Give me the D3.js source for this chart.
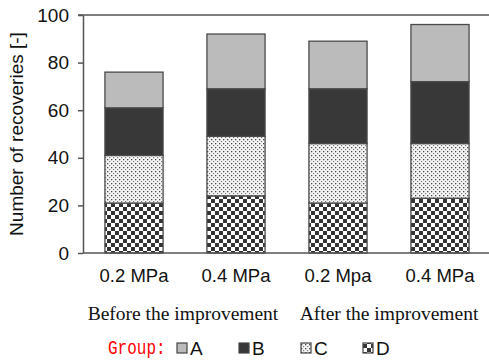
<!DOCTYPE html>
<html>
<head>
<meta charset="utf-8">
<script src="https://d3js.org/d3.v7.min.js"></script>
<style>
  body { margin: 0; background: #fff; }
  svg { display: block; }
</style>
</head>
<body>
<div id="chart"></div>
<script>
// categories and values (stacked bottom to top: D, C, B, A)
var pressures = ["0.2 MPa", "0.4 MPa", "0.2 Mpa", "0.4 MPa"];
var phases = ["Before the improvement", "After the improvement"];
var groups = ["A", "B", "C", "D"];
var groupD = [21, 24, 21, 23];
var groupC = [20, 25, 25, 23];
var groupB = [20, 20, 23, 26];
var groupA = [15, 23, 20, 24];
var yTicks = [0, 20, 40, 60, 80, 100];

var W = 489, H = 362;
var margin = {top: 15, right: -2, bottom: 109, left: 83};
var width = W - margin.left - margin.right,
    height = H - margin.top - margin.bottom;

var rows = pressures.map(function(p, i) {
  return {key: i, A: groupA[i], B: groupB[i], C: groupC[i], D: groupD[i]};
});

var svg = d3.select("#chart")
  .append("svg")
    .attr("width", W)
    .attr("height", H);

var defs = svg.append("defs");

// fine dot pattern for C
var dots = defs.append("pattern")
    .attr("id", "dots")
    .attr("patternUnits", "userSpaceOnUse")
    .attr("width", 4).attr("height", 4);
dots.append("rect").attr("width", 4).attr("height", 4).attr("fill", "#f6f6f6");
dots.append("rect").attr("x", 0).attr("y", 0).attr("width", 1.3).attr("height", 1.3).attr("fill", "#444");
dots.append("rect").attr("x", 2).attr("y", 2).attr("width", 1.2).attr("height", 1.2).attr("fill", "#777");

// checkerboard for D
var checks = defs.append("pattern")
    .attr("id", "checks")
    .attr("patternUnits", "userSpaceOnUse")
    .attr("width", 8).attr("height", 8);
checks.append("rect").attr("width", 8).attr("height", 8).attr("fill", "#fff");
checks.append("rect").attr("x", 0).attr("y", 0).attr("width", 4).attr("height", 4).attr("fill", "#333");
checks.append("rect").attr("x", 4).attr("y", 4).attr("width", 4).attr("height", 4).attr("fill", "#333");

var fills = {A: "#bbbbbb", B: "#383838", C: "url(#dots)", D: "url(#checks)"};

var g = svg.append("g")
    .attr("transform", "translate(" + margin.left + "," + margin.top + ")");

var x = d3.scaleBand()
  .domain(d3.range(pressures.length))
  .range([0, width])
  .paddingInner(0.43)
  .paddingOuter(0.215);

var y = d3.scaleLinear()
  .domain([0, 100])
  .range([height, 0]);

// top line at 100
g.append("line")
  .attr("x1", -5).attr("x2", width)
  .attr("y1", y(100)).attr("y2", y(100))
  .attr("stroke", "#555").attr("stroke-width", 1.5);

var stack = d3.stack().keys(["D", "C", "B", "A"]);
var series = stack(rows);

g.append("g")
  .selectAll("g")
  .data(series)
  .enter()
  .append("g")
    .attr("fill", function(d) { return fills[d.key]; })
  .selectAll("rect")
  .data(function(d) { return d; })
  .enter()
  .append("rect")
    .attr("x", function(d) { return x(d.data.key); })
    .attr("y", function(d) { return y(d[1]); })
    .attr("width", x.bandwidth())
    .attr("height", function(d) { return y(d[0]) - y(d[1]); })
    .attr("stroke", "#4a4a4a")
    .attr("stroke-width", 1.3);

// y axis
var yAxis = g.append("g")
  .call(d3.axisLeft(y).tickValues(yTicks).tickSize(5).tickPadding(9).tickSizeOuter(0));
yAxis.select(".domain").attr("stroke", "#555").attr("stroke-width", 1.5);
yAxis.selectAll(".tick line").attr("stroke", "#555").attr("stroke-width", 1.5);
yAxis.selectAll(".tick text")
  .attr("font-family", "Liberation Sans, Arial, sans-serif")
  .attr("font-size", 19)
  .attr("fill", "#111");

// x axis
var xAxis = g.append("g")
  .attr("transform", "translate(0," + height + ")")
  .call(d3.axisBottom(x).tickSize(0).tickPadding(16).tickFormat(function(i) { return pressures[i]; }));
xAxis.select(".domain").attr("stroke", "#555").attr("stroke-width", 1.5).attr("d", "M0,0H" + width);
xAxis.selectAll(".tick text")
  .attr("font-family", "Liberation Sans, Arial, sans-serif")
  .attr("font-size", 18.5)
  .attr("fill", "#111");

// y title
svg.append("text")
  .attr("transform", "translate(23," + (margin.top + 119) + ") rotate(-90)")
  .attr("text-anchor", "middle")
  .attr("font-family", "Liberation Sans, Arial, sans-serif")
  .attr("font-size", 19)
  .attr("fill", "#111")
  .text("Number of recoveries [-]");

// phase labels
var phaseX = [183, 389];
svg.selectAll(".phase")
  .data(phases)
  .enter()
  .append("text")
    .attr("class", "phase")
    .attr("x", function(d, i) { return phaseX[i]; })
    .attr("y", 320)
    .attr("text-anchor", "middle")
    .attr("font-family", "Liberation Serif, Times New Roman, serif")
    .attr("font-size", 19.5)
    .attr("fill", "#111")
    .text(function(d) { return d; });

// legend
svg.append("text")
  .attr("transform", "translate(108,354) scale(1,1.25)")
  .attr("font-family", "Liberation Mono, DejaVu Sans Mono, monospace")
  .attr("font-size", 16)
  .attr("fill", "#ff0000")
  .text("Group:");

var leg = svg.selectAll(".leg")
  .data(groups)
  .enter()
  .append("g")
    .attr("class", "leg")
    .attr("transform", function(d, i) { return "translate(" + (177 + i * 62) + ",0)"; });
leg.append("rect")
  .attr("x", 0).attr("y", 343)
  .attr("width", 10).attr("height", 10)
  .attr("fill", function(d) { return fills[d]; })
  .attr("stroke", "#444").attr("stroke-width", 1.2);
leg.append("text")
  .attr("x", 13).attr("y", 355)
  .attr("font-family", "Liberation Sans, Arial, sans-serif")
  .attr("font-size", 19)
  .attr("fill", "#111")
  .text(function(d) { return d; });
</script>
</body>
</html>
